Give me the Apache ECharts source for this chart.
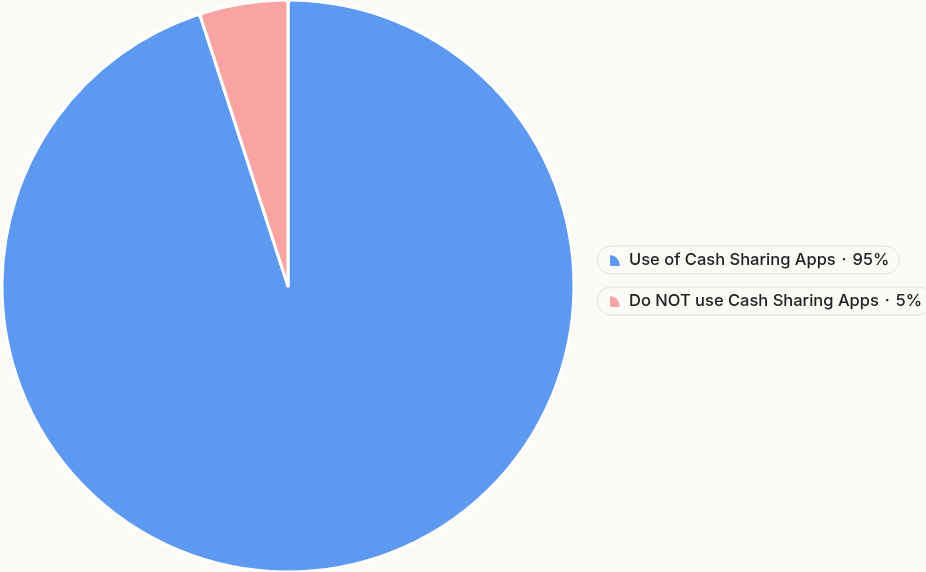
<!DOCTYPE html>
<html>
<head>
<meta charset="utf-8">
<script src="https://cdn.jsdelivr.net/npm/echarts@6/dist/echarts.min.js"></script>
<style>
  html, body { margin: 0; padding: 0; background: #FBFAF7; }
  #chart { width: 926px; height: 572px; }
</style>
</head>
<body>
<div id="chart"></div>
<script>
const categories = ['Use of Cash Sharing Apps', 'Do NOT use Cash Sharing Apps'];
const values = [95, 5];
const colors = ['#5E99F1', '#F9A4A3'];

const sliceIcon = 'path://M1,0 Q0,0 0,1 L0,13 L12,13 Q12,1 1,0 Z';

const chart = echarts.init(document.getElementById('chart'));

function pillLegend(i, top) {
  return {
    show: true,
    data: [categories[i]],
    left: 597,
    top: top,
    orient: 'vertical',
    icon: sliceIcon,
    itemWidth: 12,
    itemHeight: 13,
    padding: [6, 10, 5, 11],
    backgroundColor: '#FBFAF7',
    borderColor: '#E3E1DC',
    borderWidth: 1,
    borderRadius: 14,
    selectedMode: false,
    formatter: name => name + ' \u200a\u00b7\u200a ' + values[categories.indexOf(name)] + '%',
    textStyle: {
      fontFamily: 'Inter',
      fontSize: 16.5,
      fontWeight: 500,
      color: '#222222',
      padding: [0, 0, 0, 3]
    }
  };
}

chart.setOption({
  backgroundColor: '#FBFAF7',
  color: colors,
  legend: [pillLegend(0, 246), pillLegend(1, 287)],
  series: [{
    type: 'pie',
    center: [288, 286],
    radius: 286,
    startAngle: 90,
    clockwise: true,
    label: { show: false },
    labelLine: { show: false },
    silent: true,
    itemStyle: {
      borderColor: '#FFFFFF',
      borderWidth: 3,
      borderRadius: 4
    },
    data: categories.map((c, i) => ({ name: c, value: values[i] }))
  }]
});
</script>
</body>
</html>
